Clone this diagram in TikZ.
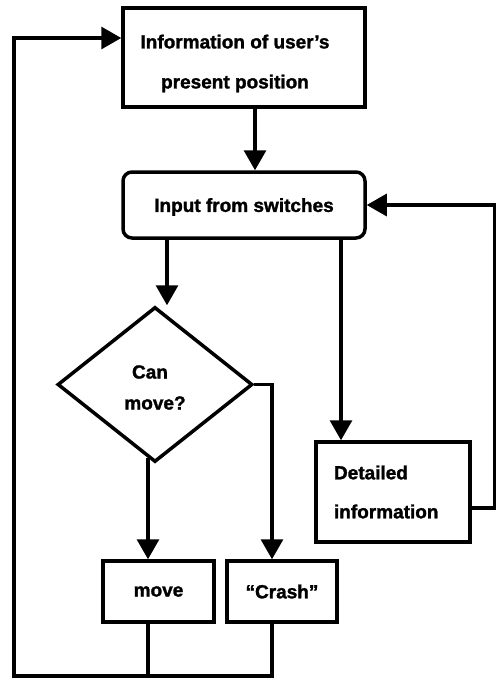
\documentclass[tikz,border=0pt]{standalone}
\usepackage{fontspec}
\setmainfont{Liberation Sans}[BoldFeatures={FakeBold=1.5}]
\usetikzlibrary{shapes.geometric,arrows.meta,calc}
% lower a line of text without changing its reported size
\newcommand\lowerby[2]{\raisebox{-#1}[\height][\depth]{#2}}
\begin{document}
\begin{tikzpicture}[x=1pt,y=-1pt,
  flow/.style={line width=3.2pt},
  arr/.style={flow,-{Triangle[length=20pt,width=22pt]}},
  box/.style={draw,line width=3.5pt,inner sep=0pt,align=center,
    font=\bfseries\fontsize{19}{40}\selectfont},
]
\useasboundingbox (0,0) rectangle (499,678);

% process boxes
\node[box,minimum width=242pt,minimum height=99pt] (pos) at (244,57.5)
  {\lowerby{6pt}{Information of user’s}\hspace*{18pt}\\
   \lowerby{6pt}{present position}\hspace*{18pt}};
\node[box,rounded corners=9pt,minimum width=242pt,minimum height=66pt] (sw) at (244,205)
  {\lowerby{2pt}{Input from switches}};
\node[box,diamond,minimum width=195pt,minimum height=155pt,
  font=\bfseries\fontsize{19}{31}\selectfont] (can) at (155,384.5)
  {\lowerby{3pt}{Can}\hspace*{10pt}\\\lowerby{3pt}{move?}};
\node[box,minimum width=154pt,minimum height=100pt,text width=118pt,align=left,
  font=\bfseries\fontsize{19}{39}\selectfont] (det) at (393,492) {Detailed\\information};
\node[box,minimum width=111pt,minimum height=61pt] (mv) at (158.5,591.5) {move};
\node[box,minimum width=110pt,minimum height=61pt] (cr) at (282,591.5) {“Crash”};

% connectors
\draw[arr] ([xshift=11pt]pos.south) -- ([xshift=11pt]sw.north);
\draw[arr] ([xshift=-77pt]sw.south) -- ([xshift=-77pt]sw.south |- can.north);
\draw[arr] ([xshift=97pt]sw.south) -- ([xshift=97pt]sw.south |- det.north);
\draw[arr] ([yshift=-16pt]det.east) -- ++(23,0) |- (sw.east);
\draw[arr] (can.east) -| ([xshift=-10pt]cr.north);
\coordinate (cm) at ([xshift=-10.5pt]mv.north |- can.south);
\draw[arr] ([yshift=6pt]cm) -- ([xshift=-10.5pt]mv.north);

% return loop back to the top
\coordinate (loop) at (14,676);
\draw[flow] ([xshift=-10.5pt]mv.south) -- ([xshift=-10.5pt]mv.south |- loop);
\draw[arr] ([xshift=-10pt]cr.south) |- (loop) |- ([yshift=19.5pt]pos.west);
\end{tikzpicture}
\end{document}
